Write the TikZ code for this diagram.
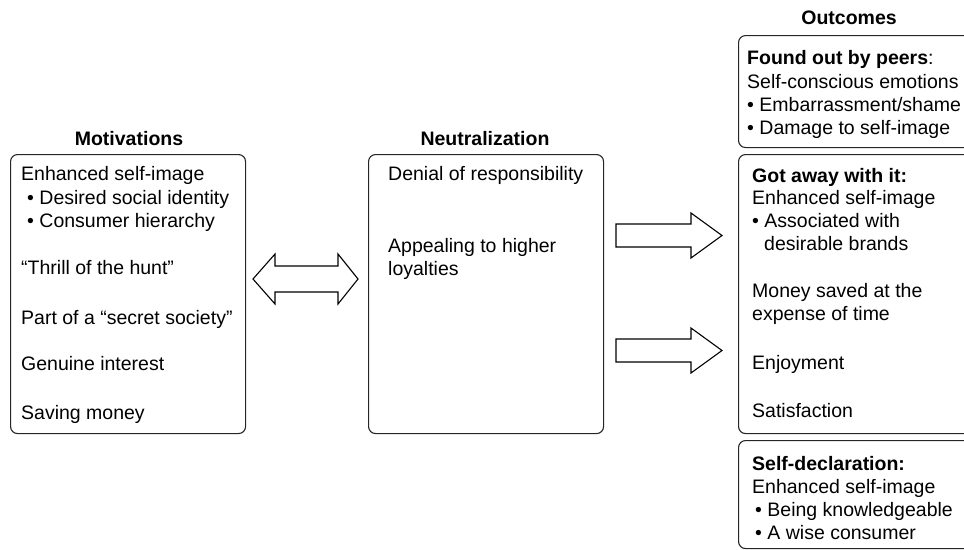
\documentclass[tikz,border=0pt]{standalone}
\usepackage{fontspec}
\setmainfont{Liberation Sans}
\begin{document}
\begin{tikzpicture}[x=1pt,y=-1pt,
  box/.style={draw=black!85,line width=1.1pt,rounded corners=7pt,inner sep=0pt,anchor=north west},
  txt/.style={anchor=base west,inner sep=0pt,font=\fontsize{19.5}{23.5}\selectfont},
  ttl/.style={anchor=base,inner sep=0pt,font=\fontsize{19.5}{23.5}\selectfont\bfseries},
  blk/.style={draw=black,line width=1.1pt,fill=white,line join=miter}]
\useasboundingbox (0,0) rectangle (964,549);
\clip (0,0) rectangle (964,549);

% boxes
\node[box,minimum width=235pt,minimum height=279pt] (mot) at (10,154) {};
\node[box,minimum width=235pt,minimum height=279pt] (neu) at (368,154) {};
\node[box,minimum width=252pt,minimum height=112pt] (out1) at (738,35) {};
\node[box,minimum width=252pt,minimum height=279pt] (out2) at (738,154) {};
\node[box,minimum width=252pt,minimum height=108pt] (out3) at (738,440) {};

% titles
\node[ttl] (tmot) at (129,145) {Motivations};
\node[ttl] (tneu) at (485,145) {Neutralization};
\node[ttl] (tout) at (849,24) {Outcomes};

% motivations
\node[txt] (m1) at (21,180) {Enhanced self-image};
\node[txt] (m2) at (27,204) {\textbullet\ Desired social identity};
\node[txt] (m3) at (27,227) {\textbullet\ Consumer hierarchy};
\node[txt] (m4) at (21,274) {“Thrill of the hunt”};
\node[txt] (m5) at (21,324) {Part of a “secret society”};
\node[txt] (m6) at (21,370) {Genuine interest};
\node[txt] (m7) at (21,419) {Saving money};

% neutralization
\node[txt] (n1) at (388,180) {Denial of responsibility};
\node[txt] (n2) at (388,252) {Appealing to higher};
\node[txt] (n3) at (388,275) {loyalties};

% outcome 1
\node[txt] (a1) at (747,64) {\textbf{Found out by peers}:};
\node[txt] (a2) at (747,88) {Self-conscious emotions};
\node[txt] (a3) at (747,111) {\textbullet\ Embarrassment/shame};
\node[txt] (a4) at (747,134) {\textbullet\ Damage to self-image};

% outcome 2
\node[txt] (b1) at (752,182) {\textbf{Got away with it:}};
\node[txt] (b2) at (752,204) {Enhanced self-image};
\node[txt] (b3) at (752,227) {\textbullet\ Associated with};
\node[txt] (b4) at (764,250) {desirable brands};
\node[txt] (b5) at (752,297) {Money saved at the};
\node[txt] (b6) at (752,320) {expense of time};
\node[txt] (b7) at (752,369) {Enjoyment};
\node[txt] (b8) at (752,417) {Satisfaction};

% outcome 3
\node[txt] (c1) at (752,470) {\textbf{Self-declaration:}};
\node[txt] (c2) at (752,493) {Enhanced self-image};
\node[txt] (c3) at (755,516) {\textbullet\ Being knowledgeable};
\node[txt] (c4) at (755,539) {\textbullet\ A wise consumer};

% block arrows
\draw[blk] (253,279)--(275,254)--(275,266)--(338,266)--(338,254)--(358,279)
  --(338,304)--(338,292)--(275,292)--(275,304)--cycle;
\draw[blk] (616,224)--(691,224)--(691,213)--(722,235.5)--(691,258)--(691,247)--(616,247)--cycle;
\draw[blk] (616,339)--(691,339)--(691,328)--(722,350.5)--(691,373)--(691,362)--(616,362)--cycle;
\end{tikzpicture}
\end{document}
